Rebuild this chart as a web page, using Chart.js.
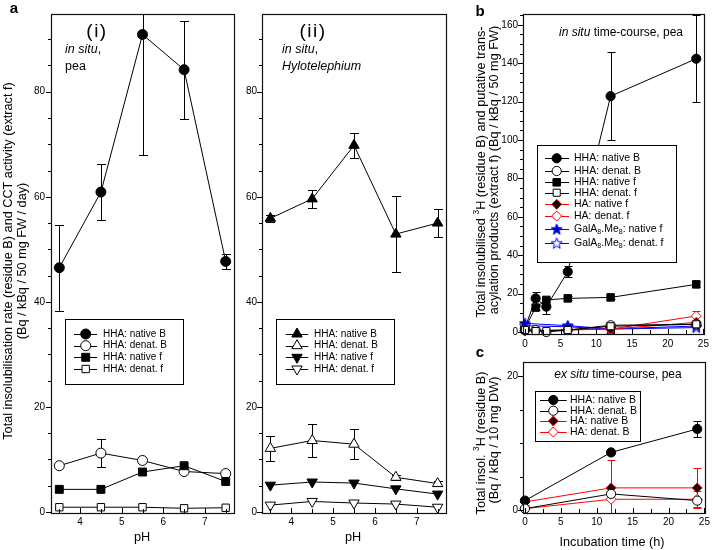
<!DOCTYPE html>
<html><head><meta charset="utf-8">
<script src="https://cdn.jsdelivr.net/npm/chart.js@4.4.1/dist/chart.umd.min.js"></script>
<style>
html,body{margin:0;padding:0;background:#fff;}
#wrap{position:relative;width:713px;height:550px;overflow:hidden;background:#fff}
#wrap canvas{position:absolute;left:0;top:0}
</style></head><body>
<div id="wrap">
<canvas id="pa1" width="713" height="550"></canvas>
<canvas id="pa2" width="713" height="550"></canvas>
<canvas id="pb" width="713" height="550"></canvas>
<canvas id="pc" width="713" height="550"></canvas>
</div>
<script>
// ---------------- DATA ----------------
const pH = [3.5, 4.5, 5.5, 6.5, 7.5];
const phTicks = [4, 5, 6, 7];
const rateTicks = [0, 20, 40, 60, 80];

// (a)(i) in situ, pea
const peaNativeB = [46.5, 60.9, 90.9, 84.2, 47.7];
const peaNativeBErr = [8.2, 5.4, 23.0, 9.3, 1.4];
const peaDenatB = [8.8, 11.2, 9.8, 7.7, 7.3];
const peaDenatBErr = [0, 2.6, 0, 0, 0];
const peaNativeF = [4.3, 4.3, 7.6, 8.8, 5.8];
const peaDenatF = [0.9, 0.9, 0.9, 0.7, 0.8];

// (a)(ii) in situ, Hylotelephium
const hyloNativeB = [55.9, 59.6, 69.8, 52.9, 55.0];
const hyloNativeBErr = [0.7, 1.7, 2.4, 7.3, 2.6];
const hyloDenatB = [12.1, 13.6, 12.9, 6.6, 5.4];
const hyloDenatBErr = [2.4, 3.1, 2.9, 0.5, 0.4];
const hyloNativeF = [5.1, 5.7, 5.5, 4.4, 3.4];
const hyloDenatF = [1.3, 2.0, 1.7, 1.5, 0.9];

// (b) in situ time-course, pea
const timeTicks = [0, 5, 10, 15, 20, 25];
const inSituTicks = [0, 20, 40, 60, 80, 100, 120, 140, 160];
const tHHA = [0, 1.5, 3, 6, 12, 24];
const inNativeB = [2.0, 17.5, 13.2, 31.4, 122.8, 142.3];
const inNativeBErr = [0, 3.2, 4.0, 2.8, 23.0, 22.7];
const inDenatB = [1.0, 1.0, 0.0, 1.0, 3.5, 4.0];
const inNativeF = [2.0, 12.7, 16.7, 17.5, 18.0, 24.8];
const inNativeFErr = [0, 1.0, 1.0, 1.0, 1.0, 1.5];
const inDenatF = [1.0, 0.5, 0.5, 1.0, 3.0, 4.0];
const tHA = [0, 12, 24];
const inHANativeF = [0.8, 1.5, 5.0];
const inHADenatF = [0.5, 1.5, 8.3];
const inHADenatFErr = [0, 0, 2.7];
const tGal = [0, 6, 12, 24];
const inGalNativeF = [4.5, 3.3, 1.6, 3.1];
const inGalDenatF = [3.3, 2.7, 1.5, 2.3];

// (c) ex situ time-course, pea
const exSituTicks = [0, 20];
const tEx = [0, 12, 24];
const exNativeB = [1.4, 8.6, 12.1];
const exNativeBErr = [0, 0, 1.2];
const exDenatB = [0.2, 2.4, 1.4];
const exHANativeB = [1.2, 3.3, 3.3];
const exHANativeBErr = [0.5, 4.1, 3.0];
const exHADenatB = [0.2, 1.6, 1.6];
const exHADenatBErr = [0, 2.0, 1.2];

// ---------------- STYLE HELPERS ----------------
const FF = "'Liberation Sans', Arial, sans-serif";
const W = 713, H = 550, YW = 40, XH = 20;

function starImage(fill, stroke) {
  const c = document.createElement('canvas'); c.width = 13; c.height = 13;
  const g = c.getContext('2d');
  g.beginPath();
  const R = 5.8, r = 2.4, cx = 6.5, cy = 6.8;
  for (let i = 0; i < 10; i++) {
    const a = -Math.PI / 2 + i * Math.PI / 5;
    const rr = i % 2 ? r : R;
    const x = cx + Math.cos(a) * rr, y = cy + Math.sin(a) * rr;
    i ? g.lineTo(x, y) : g.moveTo(x, y);
  }
  g.closePath(); g.fillStyle = fill; g.fill(); g.strokeStyle = stroke; g.lineWidth = 1; g.stroke();
  return c;
}
const starFilled = starImage('#0000cc', '#0000ff');
const starOpen = starImage('#ffffff', '#0000ff');

function drawMarker(ctx, style, x, y, r, fill, stroke, rot) {
  ctx.save();
  if (style instanceof HTMLCanvasElement) { ctx.drawImage(style, x - style.width / 2, y - style.height / 2); ctx.restore(); return; }
  ctx.fillStyle = fill; ctx.strokeStyle = stroke; ctx.lineWidth = 1;
  ctx.beginPath();
  if (style === 'circle') ctx.arc(x, y, r, 0, 2 * Math.PI);
  else if (style === 'rect') { const s = r * Math.SQRT1_2; ctx.rect(x - s, y - s, 2 * s, 2 * s); }
  else if (style === 'rectRot') { ctx.moveTo(x, y - r); ctx.lineTo(x + r, y); ctx.lineTo(x, y + r); ctx.lineTo(x - r, y); ctx.closePath(); }
  else if (style === 'triangle') {
    let a = (rot || 0) * Math.PI / 180;
    for (let i = 0; i < 3; i++) {
      const px = x + Math.sin(a) * r, py = y - Math.cos(a) * r;
      i ? ctx.lineTo(px, py) : ctx.moveTo(px, py);
      a += 2 * Math.PI / 3;
    }
    ctx.closePath();
  }
  ctx.fill(); ctx.stroke(); ctx.restore();
}

function ds(xs, ys, m, errs, cap) {
  return {
    data: xs.map((x, i) => ({ x: x, y: ys[i] })),
    err: errs || null, cap: cap || 4,
    borderColor: m.line, borderWidth: 1, showLine: true, fill: false, tension: 0,
    pointStyle: m.style, pointRadius: m.r, pointRotation: m.rot || 0,
    pointBackgroundColor: m.fill, pointBorderColor: m.stroke, pointBorderWidth: 1,
    clip: false
  };
}

// marker definitions
const M = {
  circF: { style: 'circle', r: 5, fill: '#000', stroke: '#000', line: '#000' },
  circO: { style: 'circle', r: 5, fill: '#fff', stroke: '#000', line: '#000' },
  sqF: { style: 'rect', r: 5.6, fill: '#000', stroke: '#000', line: '#000' },
  sqO: { style: 'rect', r: 5.2, fill: '#fff', stroke: '#000', line: '#000' },
  triUF: { style: 'triangle', r: 6, fill: '#000', stroke: '#000', line: '#000' },
  triUO: { style: 'triangle', r: 6, fill: '#fff', stroke: '#000', line: '#000' },
  triDF: { style: 'triangle', r: 6, rot: 180, fill: '#000', stroke: '#000', line: '#000' },
  triDO: { style: 'triangle', r: 6, rot: 180, fill: '#fff', stroke: '#000', line: '#000' },
  bCircF: { style: 'circle', r: 4.6, fill: '#000', stroke: '#000', line: '#000' },
  bCircO: { style: 'circle', r: 4.6, fill: '#fff', stroke: '#000', line: '#000' },
  bSqF: { style: 'rect', r: 5.3, fill: '#000', stroke: '#000', line: '#000' },
  bSqO: { style: 'rect', r: 5.0, fill: '#fff', stroke: '#000', line: '#000' },
  dF: { style: 'rectRot', r: 5, fill: '#200000', stroke: '#ff0000', line: '#ff0000' },
  dO: { style: 'rectRot', r: 5, fill: '#fff', stroke: '#ff0000', line: '#ff0000' },
  sF: { style: starFilled, r: 6, fill: '#00c', stroke: '#00f', line: '#0000ff' },
  sO: { style: starOpen, r: 6, fill: '#fff', stroke: '#00f', line: '#0000ff' }
};

// ---------------- PANEL DECOR (ticks, frame, legends, text) ----------------
const PANELS = {
  pa1: {
    area: { l: 51, r: 234, t: 14, b: 513 },
    xr: [3.3, 7.7], yr: [-0.2, 94.8], xTicks: phTicks, yTicks: rateTicks,
    xMinor: [3.5, 7.5, 0.5], yMinor: [0, 90, 5], xPad: 3, yPad: 6,
    legend: { box: [65, 319, 183, 384], line: [74, 97], mx: 85.7, tx: 103, font: '10px ' + FF,
      rows: [[334, 'HHA: native B', M.circF], [345.7, 'HHA: denat. B', M.circO], [357.3, 'HHA: native f', M.sqF], [369, 'HHA: denat. f', M.sqO]] },
    texts: [
      { x: 14, y: 9, segs: [['a', 'bold 15px ' + FF]], align: 'center' },
      { x: 480, y: 12, segs: [['b', 'bold 15px ' + FF]], align: 'center' },
      { x: 480, y: 353, segs: [['c', 'bold 15px ' + FF]], align: 'center' },
      { x: 97, y: 32, segs: [['(i)', '19px ' + FF]], align: 'center', ls: '1.5px' },
      { x: 65, y: 50, segs: [['in situ', 'italic 12.5px ' + FF], [',', '12.5px ' + FF]], align: 'left' },
      { x: 65, y: 67, segs: [['pea', '12.5px ' + FF]], align: 'left' },
      { x: 313, y: 32, segs: [['(ii)', '19px ' + FF]], align: 'center', ls: '1.5px' },
      { x: 282, y: 50, segs: [['in situ', 'italic 12.5px ' + FF], [',', '12.5px ' + FF]], align: 'left' },
      { x: 282, y: 67, segs: [['Hylotelephium', 'italic 12.5px ' + FF]], align: 'left' },
      { x: 142, y: 537, segs: [['pH', '12.7px ' + FF]], align: 'center' },
      { x: 353, y: 537, segs: [['pH', '12.7px ' + FF]], align: 'center' },
      { x: 8, y: 261, rot: true, segs: [['Total insolubilisation rate (residue B) and CCT activity (extract f)', '12.7px ' + FF]], align: 'center' },
      { x: 22, y: 261, rot: true, segs: [['(Bq / kBq / 50 mg FW / day)', '12.7px ' + FF]], align: 'center' },
      { x: 621, y: 33, segs: [['in situ', 'italic 12px ' + FF], [' time-course, pea', '12px ' + FF]], align: 'center' },
      { x: 481, y: 172, rot: true, segs: [['Total insolubilised ', '12.7px ' + FF], ['3', '8.5px ' + FF, -4], ['H (residue B) and putative trans-', '12.7px ' + FF]], align: 'center' },
      { x: 494, y: 170, rot: true, segs: [['acylation products (extract f) (Bq / kBq / 50 mg FW)', '12.7px ' + FF]], align: 'center' },
      { x: 618, y: 375, segs: [['ex situ', 'italic 12px ' + FF], [' time-course, pea', '12px ' + FF]], align: 'center' },
      { x: 481, y: 443, rot: true, segs: [['Total insol. ', '12.7px ' + FF], ['3', '8.5px ' + FF, -4], ['H (residue B)', '12.7px ' + FF]], align: 'center' },
      { x: 494, y: 440, rot: true, segs: [['(Bq / kBq / 10 mg DW)', '12.7px ' + FF]], align: 'center' },
      { x: 612, y: 542, segs: [['Incubation time (h)', '12.7px ' + FF]], align: 'center' }
    ]
  },
  pa2: {
    area: { l: 262, r: 446, t: 14, b: 513 },
    xr: [3.3, 7.7], yr: [-0.2, 94.8], xTicks: phTicks, yTicks: rateTicks,
    xMinor: [3.5, 7.5, 0.5], yMinor: [0, 90, 5], xPad: 3, yPad: 5,
    legend: { box: [276, 319, 394, 384], line: [285.7, 308.3], mx: 297, tx: 314, font: '10px ' + FF,
      rows: [[334, 'HHA: native B', M.triUF], [345.7, 'HHA: denat. B', M.triUO], [357.3, 'HHA: native f', M.triDF], [369, 'HHA: denat. f', M.triDO]] },
    texts: []
  },
  pb: {
    area: { l: 523, r: 708, t: 14, b: 334 },
    xr: [-0.27, 25.14], yr: [-1.05, 165.6], xTicks: timeTicks, yTicks: inSituTicks,
    xMinor: [0, 25, 2.5], yMinor: [0, 165, 5], xPad: 4, yPad: 5,
    legend: { box: [537, 145, 676, 262], line: [545, 569], mx: 556.7, tx: 574, font: '10.5px ' + FF,
      rows: [[158.3, 'HHA: native B', M.bCircF], [171, 'HHA: denat. B', M.bCircO], [182.3, 'HHA: native f', M.bSqF], [192.7, 'HHA: denat. f', M.bSqO],
             [204.3, 'HA: native f', M.dF], [216, 'HA: denat. f', M.dO],
             [229.3, [['GalA', 0], ['8', 1], ['.Me', 0], ['8', 1], [': native f', 0]], M.sF],
             [243.3, [['GalA', 0], ['8', 1], ['.Me', 0], ['8', 1], [': denat. f', 0]], M.sO]] },
    texts: []
  },
  pc: {
    area: { l: 523, r: 708, t: 362, b: 513 },
    xr: [-0.27, 25.14], yr: [-0.45, 22.1], xTicks: timeTicks, yTicks: exSituTicks,
    xMinor: [0, 25, 2.5], yMinor: [0, 20, 5], xPad: 3, yPad: 5,
    legend: { box: [535, 391, 640, 441], line: [540, 566.7], mx: 553.3, tx: 570, font: '10.5px ' + FF,
      rows: [[400, 'HHA: native B', M.bCircF], [410.7, 'HHA: denat. B', M.bCircO], [421, 'HA: native B', M.dF], [432, 'HA: denat. B', M.dO]] },
    texts: []
  }
};

function drawSegs(ctx, t) {
  ctx.save();
  ctx.fillStyle = '#000'; ctx.textBaseline = 'middle';
  if (t.ls) ctx.letterSpacing = t.ls;
  let total = 0;
  t.segs.forEach(s => { ctx.font = s[1]; total += ctx.measureText(s[0]).width; });
  ctx.translate(t.x, t.y);
  if (t.rot) ctx.rotate(-Math.PI / 2);
  let x = t.align === 'center' ? -total / 2 : 0;
  t.segs.forEach(s => { ctx.font = s[1]; ctx.textAlign = 'left'; ctx.fillText(s[0], x, s[2] || 0); x += ctx.measureText(s[0]).width; });
  ctx.restore();
}

const decor = {
  id: 'decor',
  beforeDatasetsDraw(chart) {
    const ctx = chart.ctx, ca = chart.chartArea, xs = chart.scales.x, ys = chart.scales.y;
    ctx.save();
    ctx.beginPath(); ctx.rect(ca.left, ca.top, ca.right - ca.left, ca.bottom - ca.top); ctx.clip();
    chart.data.datasets.forEach(d => {
      if (!d.err) return;
      ctx.strokeStyle = d.borderColor; ctx.lineWidth = 1;
      d.data.forEach((p, i) => {
        const e = d.err[i]; if (!e) return;
        const x = Math.round(xs.getPixelForValue(p.x)) + 0.5;
        const y1 = Math.round(ys.getPixelForValue(p.y + e)) + 0.5, y2 = Math.round(ys.getPixelForValue(p.y - e)) + 0.5;
        const c = d.cap;
        ctx.beginPath();
        ctx.moveTo(x, y1); ctx.lineTo(x, y2);
        ctx.moveTo(x - c, y1); ctx.lineTo(x + c, y1);
        ctx.moveTo(x - c, y2); ctx.lineTo(x + c, y2);
        ctx.stroke();
      });
    });
    ctx.restore();
  },
  afterDraw(chart) {
    const P = PANELS[chart.canvas.id]; const ctx = chart.ctx, ca = chart.chartArea;
    const xs = chart.scales.x, ys = chart.scales.y;
    ctx.save();
    ctx.strokeStyle = '#000'; ctx.lineWidth = 1;
    // y ticks (outward)
    for (let v = P.yMinor[0]; v <= P.yMinor[1] + 1e-9; v += P.yMinor[2]) {
      const y = Math.round(ys.getPixelForValue(v)) + 0.5;
      const len = P.yTicks.includes(v) ? 5 : 3;
      ctx.beginPath(); ctx.moveTo(ca.left - len, y); ctx.lineTo(ca.left, y); ctx.stroke();
    }
    // x ticks (inward)
    for (let v = P.xMinor[0]; v <= P.xMinor[1] + 1e-9; v += P.xMinor[2]) {
      const x = Math.round(xs.getPixelForValue(v)) + 0.5;
      const len = P.xTicks.includes(v) ? 5 : 4;
      ctx.beginPath(); ctx.moveTo(x, ca.bottom); ctx.lineTo(x, ca.bottom - len); ctx.stroke();
    }
    // frame
    ctx.lineWidth = 1.2; ctx.strokeStyle = '#111';
    ctx.strokeRect(Math.round(ca.left) + 0.5, Math.round(ca.top) + 0.5, Math.round(ca.right - ca.left), Math.round(ca.bottom - ca.top));
    // legend
    const L = P.legend;
    if (L) {
      ctx.fillStyle = '#fff';
      ctx.fillRect(L.box[0], L.box[1], L.box[2] - L.box[0], L.box[3] - L.box[1]);
      ctx.lineWidth = 1; ctx.strokeStyle = '#000';
      ctx.strokeRect(L.box[0] + 0.5, L.box[1] + 0.5, L.box[2] - L.box[0], L.box[3] - L.box[1]);
      L.rows.forEach(row => {
        const [y, label, m] = row;
        ctx.strokeStyle = m.line; ctx.lineWidth = 1;
        ctx.beginPath(); ctx.moveTo(L.line[0], Math.round(y) + 0.5); ctx.lineTo(L.line[1], Math.round(y) + 0.5); ctx.stroke();
        drawMarker(ctx, m.style, L.mx, y, m.r, m.fill, m.stroke, m.rot);
        ctx.fillStyle = '#000'; ctx.textBaseline = 'middle'; ctx.textAlign = 'left';
        if (typeof label === 'string') { ctx.font = L.font; ctx.fillText(label, L.tx, y); }
        else {
          let x = L.tx;
          label.forEach(s => {
            ctx.font = s[1] ? '7px ' + FF : L.font;
            ctx.fillText(s[0], x, y + (s[1] ? 3 : 0));
            x += ctx.measureText(s[0]).width;
          });
        }
      });
    }
    ctx.restore();
    P.texts.forEach(t => drawSegs(ctx, t));
  }
};

function makeChart(id, datasets) {
  const P = PANELS[id];
  const tickFont = { family: FF, size: 10 };
  return new Chart(document.getElementById(id), {
    type: 'line',
    data: { datasets: datasets },
    plugins: [decor],
    options: {
      responsive: false, animation: false, events: [],
      layout: { padding: { left: P.area.l - YW, right: W - P.area.r, top: P.area.t, bottom: H - P.area.b - XH } },
      plugins: { legend: { display: false }, tooltip: { enabled: false }, title: { display: false } },
      scales: {
        x: {
          type: 'linear', position: 'bottom', min: P.xr[0], max: P.xr[1],
          afterBuildTicks: s => { s.ticks = P.xTicks.map(v => ({ value: v })); },
          afterFit: s => { s.height = XH; },
          grid: { display: false, drawTicks: false }, border: { display: false },
          ticks: { font: tickFont, color: '#000', padding: P.xPad, autoSkip: false, maxRotation: 0 }
        },
        y: {
          type: 'linear', position: 'left', min: P.yr[0], max: P.yr[1],
          afterBuildTicks: s => { s.ticks = P.yTicks.map(v => ({ value: v })); },
          afterFit: s => { s.width = YW; },
          grid: { display: false, drawTicks: false }, border: { display: false },
          ticks: { font: tickFont, color: '#000', padding: P.yPad, autoSkip: false }
        }
      }
    }
  });
}

makeChart('pa1', [
  ds(pH, peaDenatF, M.sqO),
  ds(pH, peaNativeF, M.sqF),
  ds(pH, peaDenatB, M.circO, peaDenatBErr, 4.5),
  ds(pH, peaNativeB, M.circF, peaNativeBErr, 4.5)
]);
makeChart('pa2', [
  ds(pH, hyloDenatF, M.triDO),
  ds(pH, hyloNativeF, M.triDF),
  ds(pH, hyloDenatB, M.triUO, hyloDenatBErr, 4.5),
  ds(pH, hyloNativeB, M.triUF, hyloNativeBErr, 4.5)
]);
makeChart('pb', [
  ds(tHHA, inDenatF, M.bSqO),
  ds(tHHA, inDenatB, M.bCircO),
  ds(tHA, inHANativeF, M.dF),
  ds(tHA, inHADenatF, M.dO, inHADenatFErr, 4),
  ds(tGal, inGalNativeF, M.sF),
  ds(tGal, inGalDenatF, M.sO),
  ds(tHHA, inNativeF, M.bSqF, inNativeFErr, 4),
  ds(tHHA, inNativeB, M.bCircF, inNativeBErr, 4)
]);
makeChart('pc', [
  ds(tEx, exDenatB, M.bCircO),
  ds(tEx, exNativeB, M.bCircF, exNativeBErr, 4),
  ds(tEx, exHADenatB, M.dO, exHADenatBErr, 4),
  ds(tEx, exHANativeB, M.dF, exHANativeBErr, 4)
]);
</script>
</body></html>
